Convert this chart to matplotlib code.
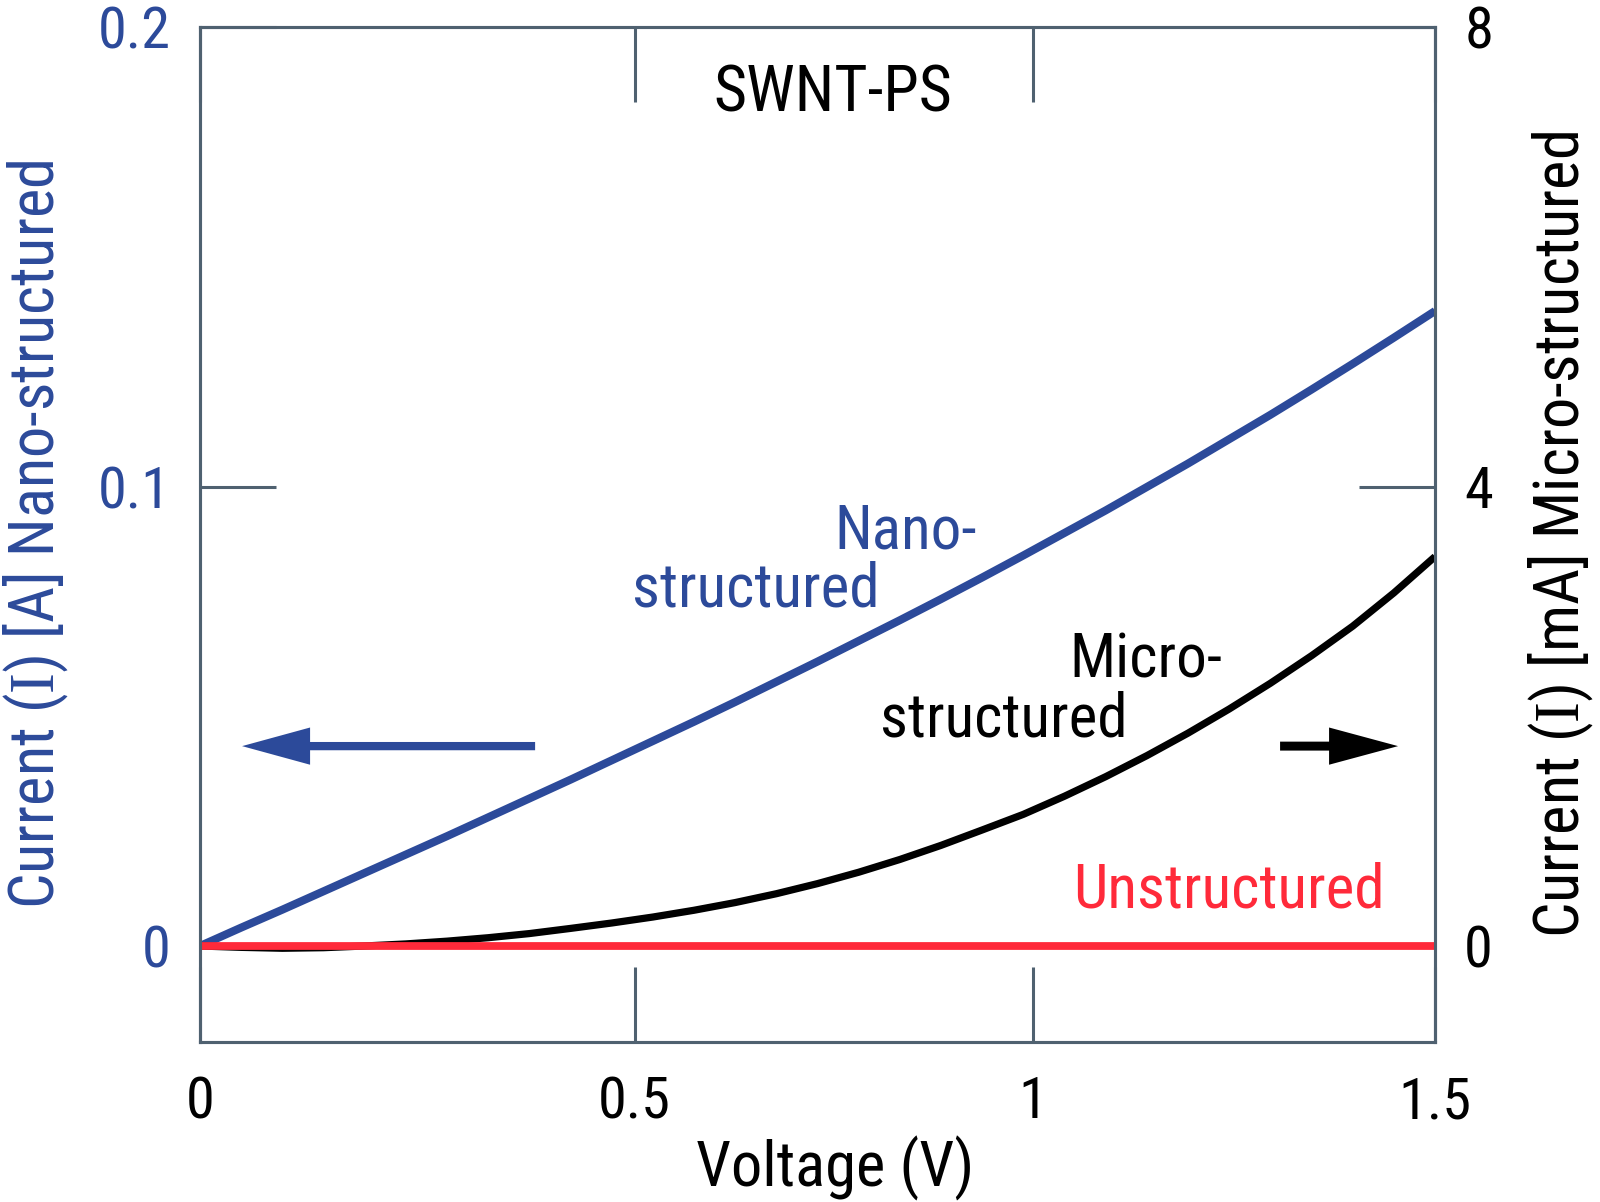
import matplotlib
matplotlib.use("Agg")
import matplotlib.pyplot as plt
from matplotlib import font_manager
from matplotlib.font_manager import FontProperties

# pick a condensed sans face, closest to the look of the original lettering
wanted = ["Roboto Condensed", "Archivo Narrow", "Asap Condensed", "DejaVu Sans Condensed"]
by_name = {}
for f in font_manager.fontManager.ttflist:
    if f.style != "normal":
        continue
    by_name.setdefault(f.name, []).append(f)
face_file = None
for n in wanted:
    if n in by_name:
        fs = sorted(by_name[n], key=lambda f: abs((f.weight if isinstance(f.weight, int) else 400) - 400))
        face_file = fs[0].fname
        break

def font(size):
    if face_file:
        return FontProperties(fname=face_file, size=size)
    return FontProperties(family=["DejaVu Sans"], stretch="condensed", size=size)

plt.rcParams["mathtext.fontset"] = "custom"
plt.rcParams["mathtext.rm"] = "Liberation Serif"

# data
voltage = [0.0, 0.05, 0.1, 0.15, 0.2, 0.25, 0.3, 0.35, 0.4, 0.45, 0.5, 0.55, 0.6, 0.65,
           0.7, 0.75, 0.8, 0.85, 0.9, 0.95, 1.0, 1.05, 1.1, 1.15, 1.2, 1.25, 1.3, 1.35,
           1.4, 1.45, 1.5]
nano_A = [0.0, 0.0040, 0.0079, 0.0119, 0.0159, 0.0199, 0.0239, 0.0280, 0.0321, 0.0362,
          0.0404, 0.0446, 0.0488, 0.0531, 0.0575, 0.0619, 0.0664, 0.0709, 0.0755, 0.0802,
          0.0850, 0.0899, 0.0948, 0.0999, 0.1050, 0.1103, 0.1156, 0.1211, 0.1267, 0.1324,
          0.1382]
micro_mA = [0.0, -0.012, -0.02, -0.015, 0.0, 0.018, 0.042, 0.072, 0.108, 0.153, 0.200,
            0.252, 0.311, 0.378, 0.455, 0.543, 0.642, 0.753, 0.876, 1.01, 1.146, 1.304,
            1.474, 1.657, 1.853, 2.063, 2.287, 2.527, 2.784, 3.074, 3.39]
unstruct_v = [0.0, 1.5]
unstruct_mA = [0.0, 0.0]

left_ticks = [0, 0.1, 0.2]
left_labels = ["0", "0.1", "0.2"]
right_ticks = [0, 4, 8]
right_labels = ["0", "4", "8"]
# the printed 0.5 / 1 marks sit a little right of a linear 0..1.5 scale
x_ticks = [0, 0.528, 1.012, 1.5]
x_labels = ["0", "0.5", "1", "1.5"]

blue = "#2c4a9a"
red = "#ff2a3a"
grey = "#4f6170"

fig = plt.figure(figsize=(16, 12.02), dpi=100)
ax = fig.add_axes([0.125, 0.1331, 0.7719, 0.8444])
ax2 = ax.twinx()

ax.plot(voltage, nano_A, color=blue, lw=5.8, solid_capstyle="butt")
ax2.plot(voltage, micro_mA, color="black", lw=5.2, solid_capstyle="butt")
ax2.plot(unstruct_v, unstruct_mA, color=red, lw=5.6, solid_capstyle="butt")

ax.set_xlim(0, 1.5)
ax.set_ylim(-0.0209, 0.2)
ax2.set_ylim(-0.836, 8)

ax.set_xticks(x_ticks)
ax.set_xticklabels(x_labels, fontproperties=font(42))
ax.set_yticks(left_ticks)
ax.set_yticklabels(left_labels, fontproperties=font(42))
ax2.set_yticks(right_ticks)
ax2.set_yticklabels(right_labels, fontproperties=font(42))

ax.tick_params(axis="x", direction="in", length=54, width=2.2, color=grey,
               top=True, pad=24)
ax.tick_params(axis="y", direction="in", length=55, width=2.2, color=grey,
               labelcolor=blue, pad=21)
ax2.tick_params(axis="y", direction="in", length=55, width=2.2, color=grey, pad=21)
for a in (ax, ax2):
    for s in a.spines.values():
        s.set_color(grey)
        s.set_linewidth(2.2)

ax.set_xlabel("Voltage (V)", fontproperties=font(45))
ax.xaxis.set_label_coords(0.514, -0.092)
ax.set_ylabel(r"Current ($\mathrm{I}$) [A] Nano-structured", fontproperties=font(45), color=blue)
ax.yaxis.set_label_coords(-0.105, 0.5)
ax2.set_ylabel(r"Current ($\mathrm{I}$) [mA] Micro-structured", fontproperties=font(45))
ax2.yaxis.set_label_coords(1.074, 0.5)

# curve labels
ax.text(0.769, 0.1817, "SWNT-PS", fontproperties=font(46), ha="center", va="baseline")
ax.text(0.770, 0.0866, "Nano-", fontproperties=font(44), color=blue, va="baseline")
ax.text(0.5247, 0.0738, "structured", fontproperties=font(44), color=blue, va="baseline")
ax.text(1.056, 0.0585, "Micro-", fontproperties=font(44), va="baseline")
ax.text(0.826, 0.0455, "structured", fontproperties=font(44), va="baseline")
ax.text(1.060, 0.00827, "Unstructured", fontproperties=font(44), color=red, va="baseline")

# direction arrows (horizontal, so data units keep their shape)
ax.arrow(0.407, 0.0435, -0.3559, 0, width=0.0018, head_width=0.0081, head_length=0.0826,
         length_includes_head=True, color=blue, lw=0)
ax.arrow(1.3118, 0.0435, 0.1433, 0, width=0.00195, head_width=0.0081, head_length=0.0838,
         length_includes_head=True, color="black", lw=0)

plt.savefig("out.png", dpi=100)
